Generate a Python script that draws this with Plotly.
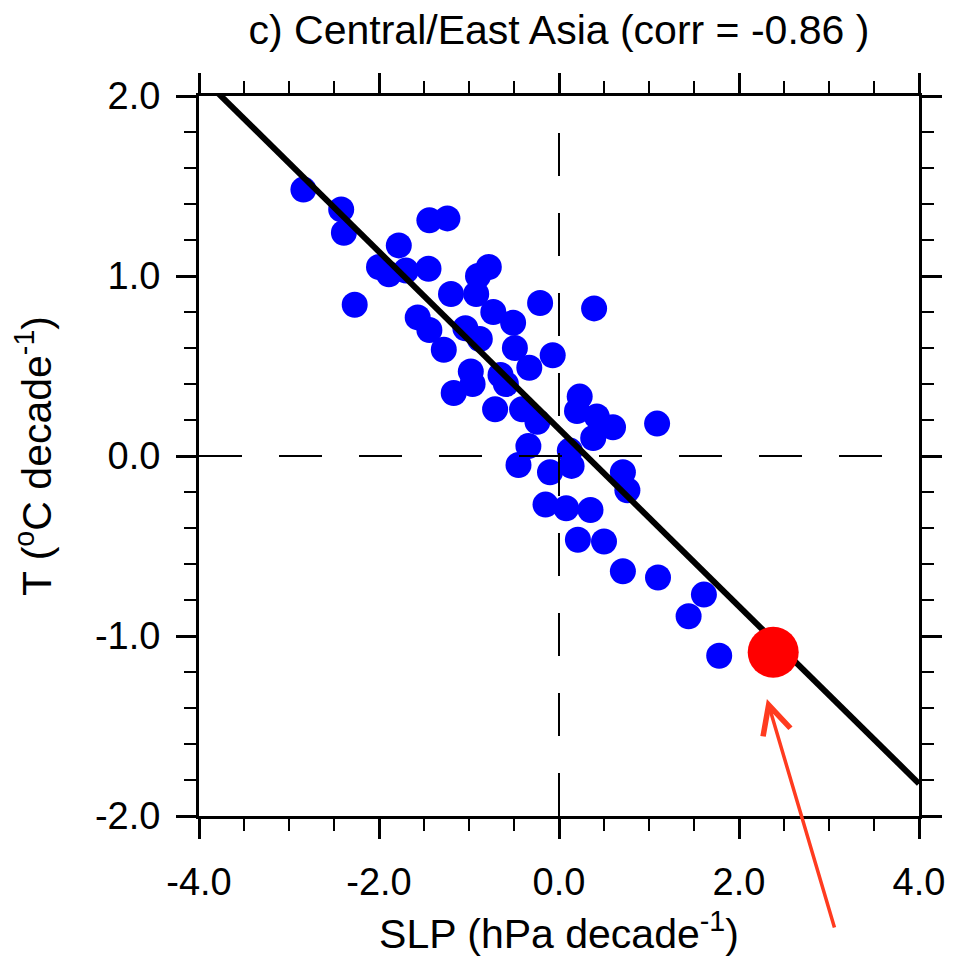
import plotly.graph_objects as go

# SLP trend (hPa/decade) vs T trend (degC/decade), one point per model
slp = [-2.84, -2.42, -2.39, -1.44, -1.24, -1.78, -2.00, -1.89, -1.70, -1.45,
       -2.27, -1.20, -0.90, -0.78, -0.92, -0.21, 0.39, -1.57, -1.44, -0.73,
       -0.51, -1.04, -0.88, -1.28, -0.49, -0.07, -0.33, -0.98, -0.65, -0.59,
       -0.96, -1.17, -0.71, -0.41, -0.24, 0.23, 0.20, 0.42, 0.60, 0.38,
       1.09, -0.34, -0.45, -0.10, 0.12, 0.14, 0.71, 0.76, -0.15, 0.08,
       0.35, 0.21, 0.50, 0.71, 1.10, 1.61, 1.44, 1.78]
temp = [1.48, 1.37, 1.24, 1.31, 1.32, 1.17, 1.05, 1.01, 1.03, 1.04,
        0.84, 0.90, 1.00, 1.05, 0.90, 0.85, 0.82, 0.77, 0.70, 0.80,
        0.74, 0.71, 0.65, 0.59, 0.60, 0.56, 0.49, 0.47, 0.45, 0.40,
        0.40, 0.35, 0.26, 0.26, 0.19, 0.33, 0.25, 0.22, 0.16, 0.10,
        0.18, 0.055, -0.05, -0.09, 0.03, -0.055, -0.09, -0.19, -0.27, -0.29,
        -0.30, -0.465, -0.475, -0.64, -0.675, -0.77, -0.89, -1.11]

# observed value (red dot)
obs_slp = [2.38]
obs_temp = [-1.09]

# regression line end points
fit_x = [-4.0, 4.0]
fit_y = [2.12, -1.82]

x_ticks = [-4, -2, 0, 2, 4]
x_labels = ["-4.0", "-2.0", "0.0", "2.0", "4.0"]
y_ticks = [-2, -1, 0, 1, 2]
y_labels = ["-2.0", "-1.0", "0.0", "1.0", "2.0"]

FONT = "Liberation Sans, Arial, Helvetica, sans-serif"

fig = go.Figure()

fig.add_trace(go.Scatter(
    x=slp, y=temp, mode="markers",
    marker=dict(color="#0000FF", size=26, line=dict(width=0)),
    showlegend=False, cliponaxis=False
))

fig.add_trace(go.Scatter(
    x=fit_x, y=fit_y, mode="lines",
    line=dict(color="black", width=6),
    showlegend=False
))

fig.add_trace(go.Scatter(
    x=obs_slp, y=obs_temp, mode="markers",
    marker=dict(color="#FF0000", size=51, line=dict(width=0)),
    showlegend=False, cliponaxis=False
))

# dashed zero lines (drawn over the dots)
fig.add_shape(type="line", xref="x", yref="y", x0=-4, y0=0, x1=4, y1=0,
              line=dict(color="black", width=2, dash="43px,37px"), layer="above")
fig.add_shape(type="line", xref="x", yref="y", x0=0, y0=-2, x1=0, y1=2,
              line=dict(color="black", width=2, dash="43px,37px"), layer="above")

# red arrow pointing at the observed value
fig.add_annotation(
    x=2.31, y=-1.35, xref="x", yref="y", text="",
    showarrow=True, ax=68, ay=230, axref="pixel", ayref="pixel",
    arrowhead=5, arrowsize=1.6, arrowwidth=3.5, arrowcolor="#FF3B1F"
)

axis_common = dict(
    showline=True, linecolor="black", linewidth=3, mirror="ticks",
    ticks="outside", ticklen=20, tickwidth=3, tickcolor="black",
    showgrid=False, zeroline=False,
    tickfont=dict(family=FONT, size=38, color="black"),
)

fig.update_xaxes(
    range=[-4, 4], tickvals=x_ticks, ticktext=x_labels,
    minor=dict(dtick=0.5, ticks="outside", ticklen=12, tickwidth=2, tickcolor="black"),
    ticklabelstandoff=10,
    title=dict(text="SLP (hPa decade<sup>-1</sup>)",
               font=dict(family=FONT, size=41, color="black"), standoff=18),
    **axis_common
)
fig.update_yaxes(
    range=[-2, 2], tickvals=y_ticks, ticktext=y_labels,
    minor=dict(dtick=0.2, ticks="outside", ticklen=12, tickwidth=2, tickcolor="black"),
    ticklabelstandoff=8,
    title=dict(text="T (<sup>o</sup>C decade<sup>-1</sup>)",
               font=dict(family=FONT, size=41, color="black"), standoff=32),
    **axis_common
)

fig.update_layout(
    width=949, height=953,
    margin=dict(l=191, r=36, t=88, b=143),
    paper_bgcolor="white", plot_bgcolor="white",
    title=dict(text="c) Central/East Asia (corr = -0.86 )",
               font=dict(family=FONT, size=41, color="black"),
               x=0.5, xanchor="center", xref="paper",
               y=0.977, yanchor="middle", yref="container"),
)

fig.write_html("out.html")
